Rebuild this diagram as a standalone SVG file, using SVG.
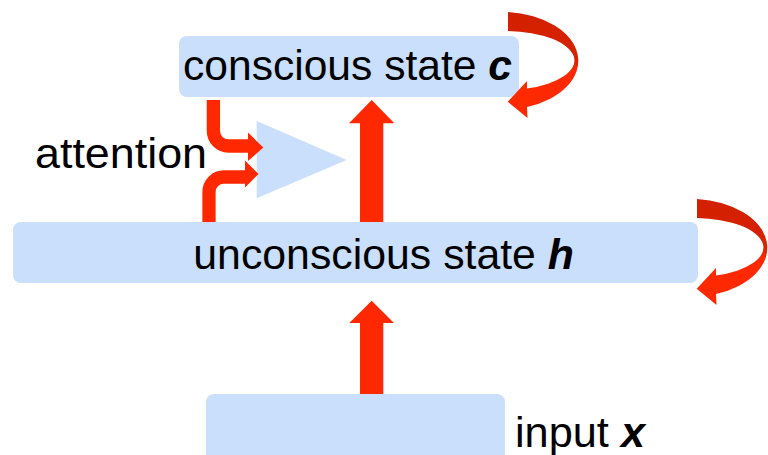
<svg xmlns="http://www.w3.org/2000/svg" width="768" height="455" viewBox="0 0 768 455">
  <style>
    .box { fill: #c9dffc; }
    .lbl { font-family: "Liberation Sans", Arial, sans-serif; font-size: 43px; fill: #000; }
    .var { font-weight: bold; font-style: italic; }
    .shaft { fill: none; stroke: #ff2800; stroke-width: 13.3; }
    .red { fill: #ff2800; }
  </style>
  <defs>
    <linearGradient id="loopGrad" x1="0" y1="0" x2="0" y2="1">
      <stop offset="0" stop-color="#d22000"/>
      <stop offset="0.45" stop-color="#d82200"/>
      <stop offset="0.56" stop-color="#ff2800"/>
      <stop offset="1" stop-color="#ff2a00"/>
    </linearGradient>
    <path id="loop" fill="url(#loopGrad)" d="M508,12 A77,49 0 0 1 527,107 L527.5,118 L507.7,101.7 L527,81 L527,88.5 A69,29.5 0 0 0 508,31 Z"/>
  </defs>

  <g id="conscious">
    <rect class="box" x="179" y="36" width="340" height="61" rx="8"/>
    <text class="lbl" x="183" y="80" textLength="329" lengthAdjust="spacingAndGlyphs">conscious state <tspan class="var">c</tspan></text>
  </g>

  <g id="attention">
    <polygon class="box" points="256.7,121 346.7,160 256.7,198.3"/>
    <text class="lbl" x="35" y="168" textLength="172" lengthAdjust="spacingAndGlyphs">attention</text>
  </g>

  <g id="unconscious">
    <rect class="box" x="13" y="222" width="685" height="61" rx="8"/>
    <text class="lbl" x="193.3" y="269" textLength="380.7" lengthAdjust="spacingAndGlyphs">unconscious state <tspan class="var">h</tspan></text>
  </g>

  <g id="input">
    <rect class="box" x="206" y="394" width="299" height="70" rx="8"/>
    <text class="lbl" x="515" y="447" textLength="130" lengthAdjust="spacingAndGlyphs">input <tspan class="var">x</tspan></text>
  </g>

  <g id="connectors">
    <!-- input -> unconscious -->
    <polygon class="red" points="360,394 360,323 349.3,323 371.7,300.7 394,323 383.3,323 383.3,394"/>
    <!-- unconscious -> conscious -->
    <polygon class="red" points="360,222 360,123.3 349,123.3 371.7,100 394.3,123.3 383.3,123.3 383.3,222"/>
    <!-- attention from conscious -->
    <path class="shaft" d="M213.4,100 V131 A15,15 0 0 0 228.4,146 H249"/>
    <polygon class="red" points="248,132.5 263.3,147.5 248,161"/>
    <!-- attention from unconscious -->
    <path class="shaft" d="M209,222 V192 A15,15 0 0 1 224,177 H246"/>
    <polygon class="red" points="245,160.5 258.5,174 245,187.5"/>
    <!-- self loops -->
    <use href="#loop"/>
    <use href="#loop" transform="translate(189,187)"/>
  </g>
</svg>
